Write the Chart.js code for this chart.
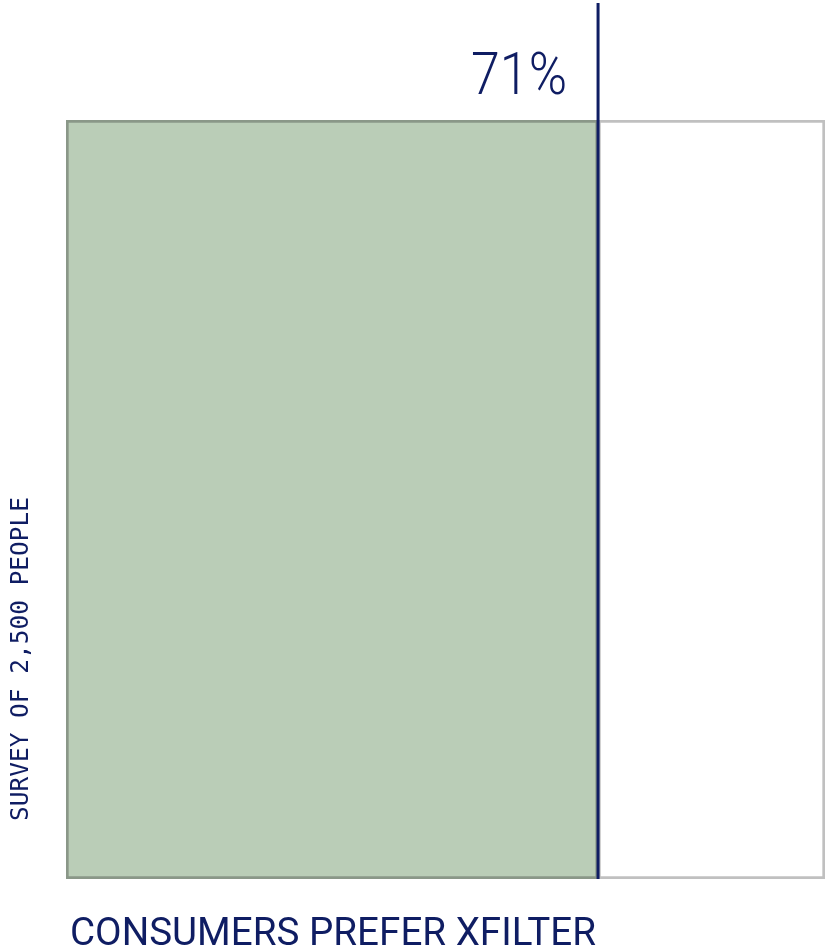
<!DOCTYPE html>
<html>
<head>
<meta charset="utf-8">
<script src="https://cdn.jsdelivr.net/npm/chart.js@4"></script>
<style>
  html, body { margin: 0; padding: 0; background: #fff; }
  #wrap { width: 826px; height: 949px; }
</style>
</head>
<body>
<div id="wrap"><canvas id="prefChart" width="826" height="949"></canvas></div>
<script>
const categories = ['Consumers'];
const preferValues = [70.1];
const otherValues = [29.9];
const valueLabel = '71%';
const xTitle = 'CONSUMERS PREFER XFILTER';
const yTitle = 'SURVEY OF 2,500 PEOPLE';

const navy = '#0f1d63';

// marker line + labels drawn against the x scale
const markerPlugin = {
  id: 'marker',
  afterDatasetsDraw(chart) {
    const { ctx, chartArea, scales } = chart;
    const x = scales.x.getPixelForValue(preferValues[0]);
    ctx.save();
    ctx.strokeStyle = navy;
    ctx.lineWidth = 3;
    ctx.beginPath();
    ctx.moveTo(x, 3);
    ctx.lineTo(x, chartArea.bottom);
    ctx.stroke();

    ctx.fillStyle = navy;
    ctx.textAlign = 'right';
    ctx.textBaseline = 'alphabetic';
    ctx.font = '300 60px Roboto';
    ctx.fillText(valueLabel, x - 31, 94, 96);

    ctx.textAlign = 'left';
    ctx.font = '39px Roboto';
    ctx.fillText(xTitle, chartArea.left + 4, 945, 526);

    ctx.translate(28, chartArea.bottom - 58);
    ctx.rotate(-Math.PI / 2);
    ctx.font = '25px "DejaVu Sans Mono"';
    ctx.fillText(yTitle, 0, 0, 324);
    ctx.restore();
  }
};

new Chart(document.getElementById('prefChart').getContext('2d'), {
  type: 'bar',
  data: {
    labels: categories,
    datasets: [
      {
        data: preferValues,
        backgroundColor: '#bacdb7',
        borderColor: '#8a9788',
        borderWidth: 3,
        borderSkipped: false
      },
      {
        data: otherValues,
        backgroundColor: '#ffffff',
        borderColor: '#c0c0c0',
        borderWidth: 3,
        borderSkipped: false
      }
    ]
  },
  options: {
    indexAxis: 'y',
    responsive: false,
    animation: false,
    datasets: { bar: { barPercentage: 1, categoryPercentage: 1 } },
    layout: { padding: { left: 66, right: 1, top: 120, bottom: 70 } },
    scales: {
      x: { stacked: true, min: 0, max: 100, display: false },
      y: { stacked: true, display: false }
    },
    plugins: { legend: { display: false }, tooltip: { enabled: false } }
  },
  plugins: [markerPlugin]
});
</script>
</body>
</html>
